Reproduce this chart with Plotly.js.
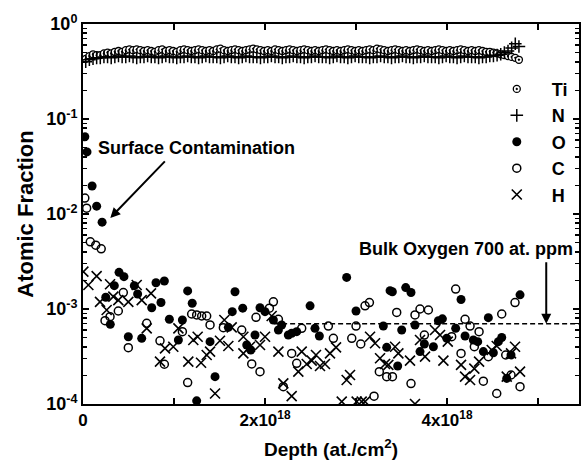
<!DOCTYPE html>
<html>
<head>
<meta charset="utf-8">
<script src="https://cdn.plot.ly/plotly-3.0.1.min.js"></script>
<style>html,body{margin:0;padding:0;background:#fff}#chart{width:586px;height:461px}</style>
</head>
<body>
<div id="chart"></div>
<script>
// Depth in units of 1e18 at./cm^2
var depthTiN = [0.03,0.07,0.11,0.15,0.19,0.23,0.27,0.31,0.35,0.39,
0.43,0.47,0.51,0.55,0.59,0.63,0.67,0.71,0.75,0.79,
0.83,0.87,0.91,0.95,0.99,1.03,1.07,1.11,1.15,1.19,
1.23,1.27,1.31,1.35,1.39,1.43,1.47,1.51,1.55,1.59,
1.63,1.67,1.71,1.75,1.79,1.83,1.87,1.91,1.95,1.99,
2.03,2.07,2.11,2.15,2.19,2.23,2.27,2.31,2.35,2.39,
2.43,2.47,2.51,2.55,2.59,2.63,2.67,2.71,2.75,2.79,
2.83,2.87,2.91,2.95,2.99,3.03,3.07,3.11,3.15,3.19,
3.23,3.27,3.31,3.35,3.39,3.43,3.47,3.51,3.55,3.59,
3.63,3.67,3.71,3.75,3.79,3.83,3.87,3.91,3.95,3.99,
4.03,4.07,4.11,4.15,4.19,4.23,4.27,4.31,4.35,4.39,
4.43,4.47,4.51,4.55,4.59,4.63,4.67,4.71,4.75,4.79];

var tiValues = [0.43,0.46,0.48,0.47,0.47,0.49,0.50,0.49,0.51,0.52,
0.51,0.53,0.54,0.53,0.54,0.53,0.52,0.53,0.52,0.51,
0.53,0.54,0.52,0.53,0.52,0.51,0.53,0.54,0.53,0.52,
0.53,0.54,0.53,0.52,0.53,0.52,0.54,0.55,0.53,0.52,
0.53,0.54,0.53,0.52,0.53,0.54,0.55,0.54,0.53,0.52,
0.53,0.52,0.54,0.53,0.52,0.53,0.54,0.53,0.52,0.53,
0.54,0.53,0.52,0.53,0.52,0.53,0.54,0.53,0.52,0.53,
0.52,0.53,0.54,0.53,0.52,0.53,0.52,0.53,0.54,0.53,
0.55,0.54,0.53,0.52,0.53,0.54,0.53,0.52,0.53,0.52,
0.53,0.54,0.53,0.52,0.53,0.52,0.53,0.54,0.53,0.52,
0.53,0.52,0.53,0.54,0.53,0.52,0.53,0.52,0.53,0.52,
0.51,0.51,0.50,0.49,0.48,0.47,0.46,0.45,0.44,0.42];

var nValues = [0.40,0.42,0.43,0.44,0.44,0.45,0.45,0.44,0.45,0.46,
0.45,0.45,0.46,0.45,0.44,0.45,0.45,0.46,0.45,0.45,
0.44,0.45,0.46,0.45,0.45,0.44,0.45,0.45,0.46,0.45,
0.45,0.44,0.45,0.46,0.45,0.45,0.45,0.44,0.45,0.46,
0.45,0.45,0.44,0.45,0.46,0.45,0.45,0.45,0.44,0.45,
0.45,0.46,0.45,0.45,0.44,0.45,0.45,0.46,0.45,0.45,
0.44,0.45,0.45,0.46,0.45,0.45,0.45,0.44,0.45,0.46,
0.45,0.45,0.44,0.45,0.46,0.45,0.45,0.45,0.44,0.45,
0.45,0.46,0.45,0.45,0.44,0.45,0.45,0.46,0.45,0.45,
0.44,0.45,0.45,0.46,0.45,0.45,0.45,0.44,0.45,0.46,
0.45,0.45,0.44,0.45,0.46,0.45,0.45,0.45,0.44,0.45,
0.45,0.46,0.46,0.47,0.48,0.50,0.52,0.56,0.62,0.58];

var oDepth = [0.02,0.044,0.10,0.15,0.21,
0.25,0.30,0.344,0.396,0.45,0.498,0.564,0.60,0.645,0.755,0.802,0.857,0.894,0.949,1.048,1.092,1.15,1.20,1.249,1.396,1.451,1.597,1.64,1.67,
1.755,1.799,1.843,1.89,1.945,2.0,2.092,2.147,2.183,2.256,2.293,2.348,2.495,2.549,2.597,2.897,3.0,3.30,3.337,3.374,
3.399,3.458,3.502,3.546,3.604,3.648,3.703,3.751,3.85,3.905,3.949,3.997,4.095,4.154,4.198,4.289,4.337,4.399,4.454,4.509,4.564,4.601,4.656,4.703,4.802];
var oValues = [0.065,0.045,0.0197,0.0121,0.0082,
0.00133,0.00069,0.00176,0.00243,0.00219,0.000511,0.00176,0.00144,0.000491,0.00103,0.00189,0.00117,0.00197,0.00078,0.000472,0.000766,0.00155,0.00115,0.000108,0.000453,0.000194,0.000641,0.000937,0.00152,
0.00102,0.000418,0.00037,0.000532,0.00103,0.000937,0.000766,0.000601,0.000679,0.000532,0.000555,0.000577,0.00108,0.000626,0.00052,0.00215,0.000953,0.000662,0.000395,0.00156,
0.00152,0.000251,0.000601,0.00168,0.00149,0.000679,0.000356,0.000428,0.000401,0.000753,0.000788,0.000491,0.000626,0.00126,0.00052,0.000472,0.000453,0.000356,0.00081,0.000346,0.000453,0.000501,0.000186,0.000328,0.00141];

var cDepth = [0.02,0.04,0.08,0.14,0.20,
0.242,0.297,0.388,0.443,0.498,0.70,0.846,0.894,1.092,1.15,1.194,1.249,1.304,1.359,1.396,1.542,
1.744,1.854,1.901,1.945,2.048,2.092,2.147,2.201,2.293,2.348,2.403,2.696,2.751,2.953,3.0,3.052,3.099,3.147,3.198,3.256,3.337,
3.40,3.447,3.604,3.648,3.703,3.751,3.795,4.051,4.095,4.154,4.198,4.253,4.30,4.352,4.399,4.454,4.546,4.601,4.645,4.703,4.747,4.802];
var cValues = [0.0147,0.0115,0.0051,0.0047,0.0043,
0.000753,0.00083,0.000953,0.00149,0.000392,0.000706,0.000463,0.000262,0.000577,0.000168,0.000886,0.000865,0.000844,0.000844,0.000679,0.000636,
0.000601,0.000264,0.000817,0.000219,0.00102,0.00119,0.00078,0.000152,0.000341,0.000268,0.000626,0.000662,0.000491,0.000491,0.000662,0.000428,0.00108,0.00117,0.000121,0.000219,0.000194,
0.000194,0.000921,0.000164,0.000865,0.00100,0.000532,0.000976,0.000511,0.00162,0.000341,0.00078,0.000662,0.000401,0.000577,0.000174,0.000315,0.000129,0.000886,0.000328,0.000202,0.00117,0.000152];

var hDepth = [0.004,0.059,0.15,0.187,0.26,0.297,0.333,0.388,0.498,0.59,0.645,0.70,0.747,0.846,0.901,0.992,1.048,1.157,1.212,1.26,1.297,1.359,1.396,1.451,1.505,1.553,1.597,
1.634,1.762,1.762,1.835,1.945,2.0,2.073,2.147,2.201,2.293,2.366,2.403,2.458,2.513,2.56,2.604,2.659,2.714,2.78,2.843,2.897,2.934,3.007,3.062,3.099,3.154,3.209,3.264,3.319,
3.355,3.429,3.465,3.593,3.648,3.703,3.758,3.868,3.923,3.96,4.008,4.154,4.198,4.253,4.30,4.352,4.491,4.546,4.656,4.703,4.747,4.802];
var hValues = [0.00247,0.00179,0.00222,0.00119,0.000976,0.00182,0.00135,0.00124,0.00119,0.00179,0.00124,0.000626,0.00146,0.000279,0.000385,0.000401,0.000626,0.000279,0.000472,0.000511,0.000272,0.000328,0.000356,0.000129,0.000463,0.000766,0.000408,
0.000641,0.000511,0.000341,0.000401,0.000418,0.000511,0.000844,0.000356,0.000165,0.000121,0.000219,0.000356,0.000264,0.000286,0.000328,0.000251,0.000264,0.000341,0.000395,0.000106,0.000179,0.000202,0.000106,0.000106,0.000106,0.000511,0.000436,0.000303,0.000264,
0.000258,0.000401,0.000341,0.000286,0.0001,0.000472,0.000315,0.000601,0.000532,0.000286,0.000453,0.000258,0.000194,0.000179,0.000236,0.000279,0.00037,0.000408,0.000194,0.000341,0.000401,0.000219];

var bulkDepth = [2.1, 5.45];
var bulkValues = [7e-4, 7e-4];

var yTickVals = [1e-4, 1e-3, 1e-2, 1e-1, 1];
var yTickText = ['10<sup>-4</sup>','10<sup>-3</sup>','10<sup>-2</sup>','10<sup>-1</sup>','10<sup>0</sup>'];
var xTickVals = [0, 1, 2, 3, 4, 5];
var xTickText = ['0', '', '2x10<sup>18</sup>', '', '4x10<sup>18</sup>', ''];
var legendNames = ['Ti', 'N', 'O', 'C', 'H'];

var E = 1e18;
function sc(a){ return a.map(function(v){ return v*E; }); }

var minorY = [];
[1e-4,1e-3,1e-2,1e-1].forEach(function(d){ for (var k=2;k<=9;k++) minorY.push(d*k); });

var FONT = 'Liberation Sans, Arial, sans-serif';

var traces = [
  {x: sc(depthTiN), y: tiValues, name: legendNames[0], mode: 'markers', type: 'scatter',
   marker: {symbol: 'circle-dot', size: 7, color: 'white', line: {color: 'black', width: 1.3}}},
  {x: sc(depthTiN), y: nValues, name: legendNames[1], mode: 'markers', type: 'scatter',
   marker: {symbol: 'cross-thin', size: 9, color: 'black', line: {color: 'black', width: 1.5}}},
  {x: sc(oDepth), y: oValues, name: legendNames[2], mode: 'markers', type: 'scatter',
   marker: {symbol: 'circle', size: 9, color: 'black'}},
  {x: sc(cDepth), y: cValues, name: legendNames[3], mode: 'markers', type: 'scatter',
   marker: {symbol: 'circle-open', size: 8, color: 'black', line: {color: 'black', width: 1.5}}},
  {x: sc(hDepth), y: hValues, name: legendNames[4], mode: 'markers', type: 'scatter',
   marker: {symbol: 'x-thin', size: 10, color: 'black', line: {color: 'black', width: 1.6}}},
  {x: sc(bulkDepth), y: bulkValues, mode: 'lines', type: 'scatter', showlegend: false,
   line: {color: 'black', width: 1.5, dash: '5px,3px'}}
];

var xRange = [0, 5.45e18];
var yRange = [-4, 0];

var layout = {
  width: 586, height: 461,
  margin: {l: 83, r: 7, t: 24, b: 57},
  paper_bgcolor: 'white', plot_bgcolor: 'white',
  font: {family: FONT, color: 'black', size: 15, weight: 'bold'},
  showlegend: true,
  legend: {x: 0.804, y: 0.877, xanchor: 'left', yanchor: 'top', bgcolor: 'rgba(0,0,0,0)',
           font: {family: FONT, size: 18, weight: 'bold'}, itemwidth: 60, tracegroupgap: 0},
  xaxis: {type: 'linear', range: xRange, showgrid: false, zeroline: false,
          showline: true, linecolor: 'black', linewidth: 2, mirror: 'ticks',
          ticks: 'inside', ticklen: 6, tickwidth: 2, tickcolor: 'black',
          tickmode: 'array', tickvals: sc(xTickVals), ticktext: xTickText,
          tickfont: {family: FONT, size: 17, weight: 'bold'},
          title: {text: 'Depth (at./cm<sup>2</sup>)', font: {family: FONT, size: 19, weight: 'bold'}, standoff: 13}},
  yaxis: {type: 'log', range: yRange, showgrid: false, zeroline: false,
          showline: true, linecolor: 'black', linewidth: 2, mirror: 'ticks',
          ticks: 'inside', ticklen: 6, tickwidth: 2, tickcolor: 'black',
          tickmode: 'array', tickvals: yTickVals, ticktext: yTickText,
          minor: {tickmode: 'array', tickvals: minorY, ticks: 'inside', ticklen: 4, tickwidth: 1.5, tickcolor: 'black'},
          tickfont: {family: FONT, size: 18, weight: 'bold'},
          title: {text: 'Atomic Fraction', font: {family: FONT, size: 22, weight: 'bold'}, standoff: 6}},
  xaxis2: {overlaying: 'x', anchor: 'y', side: 'bottom', type: 'linear', range: xRange, showgrid: false, zeroline: false,
           showline: false, ticks: 'outside', ticklen: 6, tickwidth: 2, tickcolor: 'black',
           tickmode: 'array', tickvals: sc(xTickVals), showticklabels: false},
  yaxis2: {overlaying: 'y', anchor: 'x', side: 'left', type: 'log', range: yRange, showgrid: false, zeroline: false,
           showline: false, ticks: 'outside', ticklen: 6, tickwidth: 2, tickcolor: 'black',
           tickmode: 'array', tickvals: yTickVals, showticklabels: false,
           minor: {tickmode: 'array', tickvals: minorY, ticks: 'outside', ticklen: 4, tickwidth: 1.5, tickcolor: 'black'}},
  annotations: [
    {xref: 'paper', yref: 'paper', x: (96-83)/496, y: 1-(148-24)/380, xanchor: 'left', yanchor: 'middle',
     text: 'Surface Contamination', showarrow: false, font: {family: FONT, size: 18, weight: 'bold'}},
    {xref: 'x', yref: 'y', x: 0.30e18, y: Math.log10(0.0091), text: '', showarrow: true,
     arrowhead: 2, arrowsize: 1, arrowwidth: 2, arrowcolor: 'black', ax: 56, ay: -58},
    {xref: 'paper', yref: 'paper', x: (466-83)/496, y: 1-(249-24)/380, xanchor: 'center', yanchor: 'middle',
     text: 'Bulk Oxygen 700 at. ppm', showarrow: false, font: {family: FONT, size: 18, weight: 'bold'}},
    {xref: 'x', yref: 'y', x: 5.09e18, y: Math.log10(7e-4), text: '', showarrow: true,
     arrowhead: 2, arrowsize: 1, arrowwidth: 2, arrowcolor: 'black', ax: 0, ay: -63}
  ]
};

Plotly.newPlot('chart', traces, layout, {displayModeBar: false, staticPlot: true});
</script>
</body>
</html>
